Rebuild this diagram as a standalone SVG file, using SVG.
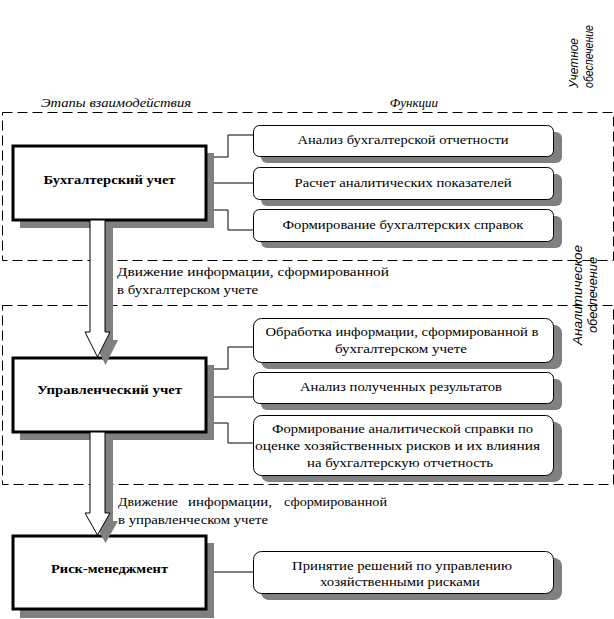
<svg xmlns="http://www.w3.org/2000/svg" width="614" height="619" viewBox="0 0 614 619">
<style>
.zone{fill:none;stroke:#000;stroke-width:1;stroke-dasharray:10,5}
.shadow{fill:#808080;stroke:none}
.main{fill:#fff;stroke:#000;stroke-width:3}
.func{fill:#fff;stroke:#000;stroke-width:1}
.conn{fill:none;stroke:#000;stroke-width:1}
.arrow{fill:#fff;stroke:#000;stroke-width:1}
.t{font-family:"Liberation Serif","Times New Roman",serif;font-size:13px;fill:#000}
.b{font-family:"Liberation Serif","Times New Roman",serif;font-size:13px;font-weight:bold;fill:#000}
.it{font-family:"Liberation Serif","Times New Roman",serif;font-size:13px;font-style:italic;fill:#000}
.rot{font-family:"Liberation Sans",Arial,sans-serif;font-size:12px;font-style:italic;fill:#000}
</style>
<rect width="614" height="619" fill="#fff"/>
<g id="zones">
<rect class="zone" x="2.5" y="112.5" width="611" height="148"/>
<rect class="zone" x="2.5" y="305.5" width="611" height="179"/>
</g>
<g id="labels">
<text class="it" x="41" y="107" textLength="150" lengthAdjust="spacingAndGlyphs">Этапы взаимодействия</text>
<text class="it" x="414" y="107" text-anchor="middle">Функции</text>
<text class="rot" transform="translate(578,88) rotate(-90)" textLength="50" lengthAdjust="spacingAndGlyphs">Учетное</text>
<text class="rot" transform="translate(593,88) rotate(-90)" textLength="63" lengthAdjust="spacingAndGlyphs">обеспечение</text>
<text class="rot" transform="translate(582,345) rotate(-90)" textLength="100" lengthAdjust="spacingAndGlyphs">Аналитическое</text>
<text class="rot" transform="translate(597,333) rotate(-90)" textLength="76" lengthAdjust="spacingAndGlyphs">обеспечение</text>
<text class="t" x="117" y="276" textLength="272" lengthAdjust="spacingAndGlyphs">Движение информации, сформированной</text>
<text class="t" x="117" y="294" textLength="141" lengthAdjust="spacingAndGlyphs">в бухгалтерском учете</text>
<text class="t" y="506"><tspan x="118" textLength="60" lengthAdjust="spacingAndGlyphs">Движение</tspan> <tspan x="188" textLength="84" lengthAdjust="spacingAndGlyphs">информации,</tspan> <tspan x="284" textLength="103" lengthAdjust="spacingAndGlyphs">сформированной</tspan></text>
<text class="t" x="118" y="524" textLength="150" lengthAdjust="spacingAndGlyphs">в управленческом учете</text>
</g>
<g id="connectors">
<polyline class="conn" points="206,157 228,157 228,135 253,135"/>
<line class="conn" x1="206" y1="183" x2="253" y2="183"/>
<polyline class="conn" points="206,210 228,210 228,230 253,230"/>
<polyline class="conn" points="206,369 228,369 228,347 253,347"/>
<line class="conn" x1="206" y1="397" x2="253" y2="397"/>
<polyline class="conn" points="206,423 228,423 228,443 253,443"/>
<line class="conn" x1="206" y1="572" x2="253" y2="572"/>
</g>
<g id="node-buh">
<rect class="shadow" x="20" y="153" width="194" height="75"/>
<rect class="main" x="13" y="146" width="193" height="74"/>
<text class="b" x="109.5" y="184" text-anchor="middle" textLength="132" lengthAdjust="spacingAndGlyphs">Бухгалтерский учет</text>
</g>
<g id="node-upr">
<rect class="shadow" x="20" y="365" width="194" height="75"/>
<rect class="main" x="13" y="358" width="193" height="74"/>
<text class="b" x="109.5" y="394" text-anchor="middle" textLength="145" lengthAdjust="spacingAndGlyphs">Управленческий учет</text>
</g>
<g id="node-risk">
<rect class="shadow" x="20" y="543" width="194" height="75"/>
<rect class="main" x="13" y="536" width="193" height="73"/>
<text class="b" x="109.5" y="573" text-anchor="middle" textLength="117" lengthAdjust="spacingAndGlyphs">Риск-менеджмент</text>
</g>
<g id="arrow-1">
<polygon class="shadow" points="98,228 113,228 113,340 118,340 105.5,365 93,340 98,340"/>
<polygon class="arrow" points="90,220 105,220 105,332 110,332 97.5,357 85,332 90,332"/>
</g>
<g id="arrow-2">
<polygon class="shadow" points="98,440 113,440 113,521 118,521 105.5,543 93,521 98,521"/>
<polygon class="arrow" points="90,432 105,432 105,513 110,513 97.5,535 85,513 90,513"/>
</g>
<g id="f1">
<rect class="shadow" x="261" y="132" width="301" height="31" rx="6"/>
<rect class="func" x="253.5" y="125.5" width="300" height="31" rx="6"/>
<text class="t" x="403" y="144" text-anchor="middle" textLength="211" lengthAdjust="spacingAndGlyphs">Анализ бухгалтерской отчетности</text>
</g>
<g id="f2">
<rect class="shadow" x="261" y="174" width="301" height="32" rx="6"/>
<rect class="func" x="253.5" y="167.5" width="300" height="32" rx="6"/>
<text class="t" x="403" y="187" text-anchor="middle" textLength="217" lengthAdjust="spacingAndGlyphs">Расчет аналитических показателей</text>
</g>
<g id="f3">
<rect class="shadow" x="261" y="216" width="301" height="32" rx="6"/>
<rect class="func" x="253.5" y="209.5" width="300" height="32" rx="6"/>
<text class="t" x="403" y="229" text-anchor="middle" textLength="241" lengthAdjust="spacingAndGlyphs">Формирование бухгалтерских справок</text>
</g>
<g id="f4">
<rect class="shadow" x="261" y="325" width="301" height="44" rx="8"/>
<rect class="func" x="253.5" y="318.5" width="300" height="44" rx="8"/>
<text class="t" x="402" y="336" text-anchor="middle" textLength="273" lengthAdjust="spacingAndGlyphs">Обработка информации, сформированной в</text>
<text class="t" x="401" y="353" text-anchor="middle" textLength="132" lengthAdjust="spacingAndGlyphs">бухгалтерском учете</text>
</g>
<g id="f5">
<rect class="shadow" x="261" y="379" width="301" height="31" rx="6"/>
<rect class="func" x="253.5" y="372.5" width="300" height="31" rx="6"/>
<text class="t" x="401" y="391" text-anchor="middle" textLength="202" lengthAdjust="spacingAndGlyphs">Анализ полученных результатов</text>
</g>
<g id="f6">
<rect class="shadow" x="261" y="422" width="301" height="60" rx="8"/>
<rect class="func" x="253.5" y="415.5" width="300" height="60" rx="8"/>
<text class="t" x="402.5" y="433" text-anchor="middle" textLength="261" lengthAdjust="spacingAndGlyphs">Формирование аналитической справки по</text>
<text class="t" x="397.5" y="450" text-anchor="middle" textLength="285" lengthAdjust="spacingAndGlyphs">оценке хозяйственных рисков и их влияния</text>
<text class="t" x="400" y="467" text-anchor="middle" textLength="186" lengthAdjust="spacingAndGlyphs">на бухгалтерскую отчетность</text>
</g>
<g id="f7">
<rect class="shadow" x="261" y="558" width="301" height="42" rx="8"/>
<rect class="func" x="253.5" y="551.5" width="300" height="42" rx="8"/>
<text class="t" x="402" y="570" text-anchor="middle" textLength="220" lengthAdjust="spacingAndGlyphs">Принятие решений по управлению</text>
<text class="t" x="400" y="586" text-anchor="middle" textLength="160" lengthAdjust="spacingAndGlyphs">хозяйственными рисками</text>
</g>
</svg>
